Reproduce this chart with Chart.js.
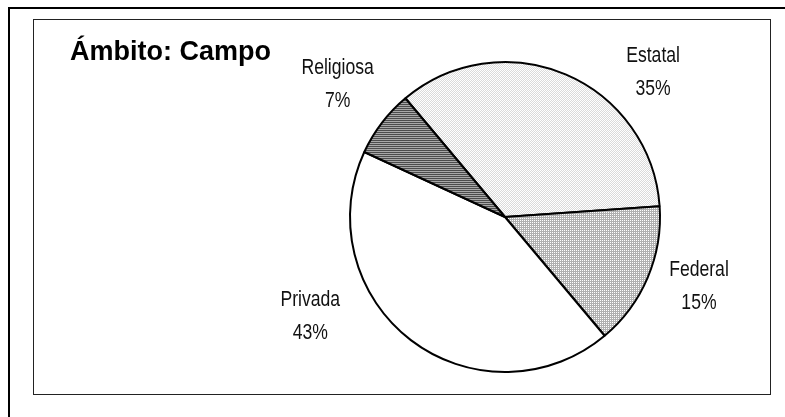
<!DOCTYPE html>
<html>
<head>
<meta charset="utf-8">
<script src="https://cdn.jsdelivr.net/npm/chart.js@4"></script>
<style>
body{margin:0;background:#fff;}
canvas{display:block;}
</style>
</head>
<body>
<canvas id="grafica" width="785" height="417"></canvas>
<script>
// datos
const titulo="Ámbito: Campo"
const categorias=["Estatal","Federal","Privada","Religiosa"]
const porcentajes=[35,15,43,7]

// ajuste de etiquetas respecto al angulo medio de cada rebanada (grados, factor de radio)
const etiquetaGiro=[22.7,-3.2,25.6,0.9]
const etiquetaDist=[1.335,1.33,1.41,1.376]

function patron(celdas,ancho,alto){
const c=document.createElement("canvas")
c.width=ancho
c.height=alto
const x=c.getContext("2d")
celdas.forEach((col,i)=>{
x.fillStyle=col
x.fillRect(i%ancho,Math.floor(i/ancho),1,1)
})
return x.createPattern(c,"repeat")
}

const ctx=document.getElementById("grafica").getContext("2d")

const rellenos=[
patron(["#ffffff","#dadada","#dadada","#ffffff"],2,2),
patron(["#ffffff","#b0b0b0","#b0b0b0","#b0b0b0"],2,2),
"#ffffff",
patron(["#4c4c4c","#4c4c4c","#a8a8a8","#a8a8a8"],2,2)
]

const marco={
id:"marco",
beforeDraw(chart){
const c=chart.ctx
c.save()
c.fillStyle="#fff"
c.fillRect(0,0,chart.width,chart.height)
c.strokeStyle="#000"
c.lineWidth=2
c.strokeRect(9,8,820,440)
c.strokeStyle="#222"
c.lineWidth=1
c.strokeRect(33.5,19.5,737,375)
c.fillStyle="#000"
c.font="bold 27px 'Liberation Sans', Arial, sans-serif"
c.textAlign="left"
c.textBaseline="alphabetic"
c.fillText(titulo,70,60)
c.restore()
}
}

// texto angosto: la fuente Narrow no existe, se comprime en horizontal
function textoAngosto(c,t,x,y){
c.save()
c.translate(x,y)
c.scale(0.8,1)
c.fillText(t,0,0)
c.restore()
}

const etiquetas={
id:"etiquetas",
afterDatasetsDraw(chart){
const c=chart.ctx
const meta=chart.getDatasetMeta(0)
c.save()
c.fillStyle="#111"
c.font="22px 'Liberation Sans', Arial, sans-serif"
c.textAlign="center"
c.textBaseline="middle"
meta.data.forEach((arc,i)=>{
const p=arc.getProps(["x","y","startAngle","endAngle","outerRadius"],true)
const medio=(p.startAngle+p.endAngle)/2+etiquetaGiro[i]*Math.PI/180
const r=p.outerRadius*etiquetaDist[i]
const lx=p.x+Math.cos(medio)*r
const ly=p.y+Math.sin(medio)*r
textoAngosto(c,categorias[i],lx,ly-16.5)
textoAngosto(c,porcentajes[i]+"%",lx,ly+16.5)
})
c.restore()
}
}

new Chart(ctx,{
type:"pie",
data:{
labels:categorias,
datasets:[{
data:porcentajes,
backgroundColor:rellenos,
borderColor:"#000",
borderWidth:2
}]
},
options:{
responsive:false,
animation:false,
rotation:-40,
layout:{padding:{left:349,right:124,top:61,bottom:44}},
plugins:{
legend:{display:false},
tooltip:{enabled:false}
}
},
plugins:[marco,etiquetas]
})
</script>
</body>
</html>
